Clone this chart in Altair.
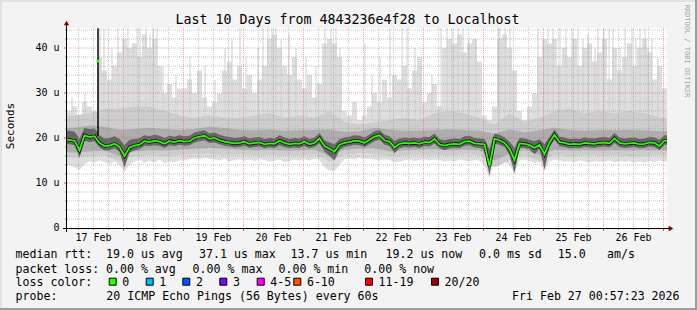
import altair as alt
import pandas as pd

# ---------------- data ----------------
START = pd.Timestamp("2026-02-17T01:24:00Z")
END = START + pd.Timedelta(days=10)

# 2-hour buckets (120)
median = [19.6, 19.4, 17.3, 20.6, 20.2, 20.4, 18.9, 18.2, 18.3, 18.7,
          18.0, 16.0, 17.9, 18.3, 18.5, 19.3, 19.1, 19.4, 19.2, 18.7,
          19.3, 19.1, 19.4, 19.2, 19.3, 20.0, 20.3, 20.5, 19.8, 20.0,
          19.5, 19.2, 19.0, 18.8, 18.9, 19.2, 18.7, 18.9, 19.0, 18.6,
          18.8, 18.7, 19.4, 18.9, 18.6, 18.8, 18.7, 19.2, 18.6, 18.9,
          19.9, 18.2, 17.6, 17.0, 18.5, 18.9, 19.1, 19.4, 19.3, 18.9,
          19.6, 20.3, 20.6, 19.5, 19.2, 17.9, 18.7, 18.9, 18.8, 18.9,
          18.7, 19.1, 19.0, 19.8, 18.6, 18.3, 18.6, 18.7, 18.6, 19.2,
          19.3, 18.8, 18.7, 18.6, 13.7, 19.8, 19.5, 18.9, 17.6, 15.1,
          18.8, 18.7, 18.4, 17.8, 18.5, 16.4, 19.0, 20.7, 19.1, 18.9,
          18.6, 18.7, 18.6, 18.9, 18.8, 18.7, 18.9, 19.0, 18.8, 19.9,
          18.9, 18.7, 18.8, 18.9, 18.6, 18.7, 19.0, 18.9, 18.2, 19.4]

p25 = [18.6, 18.4, 15.6, 19.4, 19.1, 19.3, 17.9, 17.2, 17.3, 17.7,
       16.9, 13.4, 16.8, 17.3, 17.5, 18.3, 18.2, 18.4, 18.3, 17.8,
       18.4, 18.2, 18.5, 18.3, 18.4, 19.0, 19.3, 19.5, 18.9, 19.0,
       18.6, 18.3, 18.1, 17.9, 18.0, 18.3, 17.8, 18.0, 18.1, 17.7,
       17.9, 17.8, 18.4, 18.0, 17.7, 17.9, 17.8, 18.2, 17.7, 18.0,
       18.8, 17.0, 16.0, 15.0, 17.4, 18.0, 18.2, 18.5, 18.4, 18.0,
       18.6, 19.3, 19.6, 18.5, 18.2, 16.6, 17.7, 18.0, 17.9, 18.0,
       17.8, 18.2, 18.1, 18.8, 17.7, 17.3, 17.7, 17.8, 17.7, 18.3,
       18.4, 17.9, 17.8, 17.4, 11.6, 18.7, 18.5, 18.0, 16.2, 12.2,
       17.8, 17.8, 17.5, 16.4, 17.6, 13.0, 18.0, 19.6, 18.2, 18.0,
       17.7, 17.8, 17.7, 18.0, 17.9, 17.8, 18.0, 18.1, 17.9, 18.9,
       18.0, 17.8, 17.9, 18.0, 17.7, 17.8, 18.1, 18.0, 17.3, 18.5]

p75 = [21.6, 21.4, 19.8, 22.3, 22.0, 22.1, 20.6, 19.9, 20.0, 20.4,
       19.8, 18.4, 19.6, 19.8, 20.0, 20.6, 20.4, 20.7, 20.5, 20.0,
       20.5, 20.3, 20.6, 20.4, 20.5, 21.2, 21.5, 21.7, 21.0, 21.2,
       20.7, 20.4, 20.2, 20.0, 20.1, 20.4, 19.9, 20.1, 20.2, 19.8,
       20.0, 19.9, 20.6, 20.1, 19.8, 20.0, 19.9, 20.4, 19.8, 20.1,
       21.1, 19.5, 19.0, 18.6, 19.7, 20.1, 20.3, 20.6, 20.5, 20.1,
       20.8, 21.5, 21.8, 20.7, 20.4, 19.4, 19.9, 20.1, 20.0, 20.1,
       19.9, 20.3, 20.2, 21.0, 19.8, 19.5, 19.8, 19.9, 19.8, 20.4,
       20.5, 20.0, 19.9, 19.8, 17.5, 21.0, 20.7, 20.1, 19.2, 17.8,
       20.0, 19.9, 19.6, 19.3, 19.7, 18.6, 20.2, 21.9, 20.3, 20.1,
       19.8, 19.9, 19.8, 20.1, 20.0, 19.9, 20.1, 20.2, 20.0, 21.1,
       20.1, 19.9, 20.0, 20.1, 19.8, 19.9, 20.2, 20.1, 19.6, 20.6]

rtt_min = [14.0, 13.5, 12.9, 14.2, 14.8, 14.5, 15.0, 14.6, 14.2, 14.8,
           14.0, 12.4, 14.0, 14.8, 15.2, 14.5, 15.0, 14.6, 15.2, 14.4,
           14.8, 14.6, 15.0, 15.0, 15.3, 15.5, 15.2, 15.6, 15.4, 15.2,
           15.0, 15.4, 14.8, 15.1, 15.3, 15.0, 15.2, 14.9, 15.3, 15.1,
           14.8, 15.0, 15.2, 14.6, 14.9, 15.2, 15.0, 15.3, 15.0, 15.4,
           15.1, 13.5, 12.8, 12.6, 14.0, 15.3, 15.5, 15.2, 15.6, 15.3,
           15.4, 15.2, 15.0, 15.3, 15.1, 14.6, 14.8, 15.0, 15.2, 14.9,
           15.1, 15.3, 15.0, 15.2, 15.1, 14.7, 15.0, 14.8, 15.2, 15.0,
           14.9, 15.1, 15.0, 14.0, 11.0, 15.0, 15.2, 14.8, 14.0, 12.0,
           15.0, 15.2, 14.9, 14.5, 14.8, 12.6, 14.8, 15.2, 15.0, 14.7,
           14.9, 14.6, 15.0, 14.8, 14.5, 14.9, 14.7, 14.8, 15.0, 14.6,
           14.9, 14.7, 14.9, 14.5, 14.8, 14.6, 14.9, 14.7, 15.0, 14.8]

rtt_max = [26, 27, 25, 28, 27, 26, 38, 35, 33, 36,
           39, 42, 40, 41, 38, 43, 40, 42, 36, 30,
           32, 29, 31, 31, 33, 30, 35, 29, 27, 28,
           30, 35, 37, 33, 36, 31, 34, 30, 33, 36,
           42, 43, 40, 36, 34, 38, 33, 31, 34, 29,
           32, 41, 42, 41, 38, 26, 25, 28, 24, 25,
           27, 30, 28, 33, 29, 34, 33, 36, 31, 35,
           38, 28, 30, 32, 27, 40, 42, 41, 43, 39,
           41, 42, 37, 25, 24, 27, 42, 43, 40, 35,
           26, 24, 27, 30, 38, 42, 41, 42, 36, 40,
           38, 42, 36, 40, 41, 37, 39, 42, 33, 40,
           35, 38, 41, 36, 40, 42, 39, 33, 36, 31]

# 6-hour buckets (40)
p5 = [15.6, 16.0, 16.2, 14.8, 16.0, 16.2, 16.0, 16.3, 16.4, 16.5,
      16.3, 16.4, 16.2, 16.3, 16.1, 16.3, 16.4, 14.8, 16.3, 16.6,
      16.5, 16.0, 16.2, 16.4, 16.3, 16.1, 16.4, 16.2, 13.5, 15.0,
      16.3, 14.8, 16.2, 16.0, 16.2, 16.1, 16.2, 16.0, 16.1, 16.2]
p95 = [25.0, 25.5, 26.5, 26.5, 27.0, 27.0, 26.0, 25.0, 24.5, 25.0,
       24.5, 24.5, 25.0, 25.5, 24.5, 25.0, 24.5, 26.0, 23.5, 23.0,
       23.5, 24.0, 24.5, 24.0, 25.5, 26.0, 25.5, 24.5, 23.0, 25.5,
       23.5, 24.5, 26.0, 26.5, 25.5, 26.0, 25.5, 26.0, 25.5, 24.5]
p10 = [16.8, 17.0, 17.2, 16.0, 17.0, 17.3, 17.2, 17.4, 17.6, 17.8,
       17.6, 17.4, 17.3, 17.4, 17.2, 17.3, 17.4, 16.0, 17.4, 17.6,
       17.7, 17.0, 17.3, 17.4, 17.5, 17.2, 17.4, 17.3, 15.0, 16.5,
       17.4, 16.2, 17.4, 17.2, 17.3, 17.2, 17.3, 17.2, 17.3, 17.3]
p90 = [22.3, 22.8, 22.5, 21.8, 22.0, 22.3, 22.0, 21.8, 22.0, 22.5,
       22.2, 21.8, 21.7, 21.9, 21.6, 21.7, 21.8, 21.9, 21.4, 21.5,
       22.2, 21.9, 21.6, 21.6, 21.8, 21.9, 21.8, 21.6, 21.0, 21.9,
       21.3, 21.7, 22.3, 21.8, 21.6, 21.8, 21.7, 21.8, 21.7, 21.5]

# thin single-sample smoke spikes
spike_time = ["2026-02-17T03:24", "2026-02-17T08:36", "2026-02-17T14:36", "2026-02-17T16:12",
              "2026-02-17T19:24", "2026-02-17T21:48", "2026-02-18T01:48", "2026-02-18T03:48",
              "2026-02-18T05:24", "2026-02-18T06:36", "2026-02-18T09:00", "2026-02-18T10:36",
              "2026-02-18T11:48", "2026-02-18T13:24", "2026-02-18T15:48", "2026-02-18T21:00",
              "2026-02-19T02:36", "2026-02-19T08:36", "2026-02-19T12:36", "2026-02-19T16:36",
              "2026-02-19T19:24", "2026-02-19T22:36", "2026-02-20T01:00", "2026-02-20T05:48",
              "2026-02-20T07:48", "2026-02-20T09:48", "2026-02-20T11:24", "2026-02-20T13:00",
              "2026-02-20T15:00", "2026-02-20T18:12", "2026-02-20T21:00", "2026-02-21T01:00",
              "2026-02-21T05:00", "2026-02-21T08:36", "2026-02-21T11:00", "2026-02-21T13:00",
              "2026-02-21T14:36", "2026-02-22T00:36", "2026-02-22T03:24", "2026-02-22T06:36",
              "2026-02-22T10:36", "2026-02-22T15:24", "2026-02-22T17:24", "2026-02-22T20:36",
              "2026-02-22T22:36", "2026-02-23T03:24", "2026-02-23T07:00", "2026-02-23T09:24",
              "2026-02-23T11:24", "2026-02-23T13:48", "2026-02-23T15:48", "2026-02-23T18:12",
              "2026-02-23T21:00", "2026-02-24T05:48", "2026-02-24T06:36", "2026-02-24T08:36",
              "2026-02-24T10:36", "2026-02-24T21:48", "2026-02-25T00:12", "2026-02-25T01:48",
              "2026-02-25T03:48", "2026-02-25T06:36", "2026-02-25T09:00", "2026-02-25T11:24",
              "2026-02-25T13:48", "2026-02-25T15:48", "2026-02-25T17:48", "2026-02-25T20:36",
              "2026-02-25T21:48", "2026-02-26T00:12", "2026-02-26T02:12", "2026-02-26T03:48",
              "2026-02-26T06:36", "2026-02-26T08:36", "2026-02-26T11:24", "2026-02-26T13:00",
              "2026-02-26T14:36", "2026-02-26T16:36", "2026-02-26T17:48", "2026-02-26T19:24",
              "2026-02-26T21:48"]
spike_top = [29, 30, 44.4, 44.4, 40, 44.4, 44.4, 41, 44.4, 44.4, 44.4, 43,
             44.4, 44.4, 36, 34, 38, 36, 33, 40, 42, 44.4, 38, 40,
             44.4, 44.4, 44.4, 44.4, 42, 43, 40, 38, 36, 44.4, 44.4, 44.4,
             40, 41, 34, 38, 44.4, 44.4, 44.4, 40, 36, 34, 44.4, 44.4,
             44.4, 44.4, 44.4, 42, 42, 44.4, 44.4, 44.4, 44.4, 44.4, 40, 44.4,
             44.4, 44.4, 44.4, 44.4, 44.4, 42, 43, 40, 44.4, 44.4, 44.4, 44.4,
             40, 44.4, 44.4, 42, 44.4, 44.4, 40, 42, 38]
spike_base = [24.0] * len(spike_time)

# the one median outlier
outlier_time = ["2026-02-17T13:48"]
outlier_median = [37.1]
outlier_low = [20.5]
outlier_top = [44.4]

x_tick_labels = ["17 Feb", "18 Feb", "19 Feb", "20 Feb", "21 Feb",
                 "22 Feb", "23 Feb", "24 Feb", "25 Feb", "26 Feb"]
y_tick_values = [0, 10, 20, 30, 40]
y_tick_labels = ["0\u00a0\u00a0", "10 u", "20 u", "30 u", "40 u"]

loss_labels = ["0", "1", "2", "3", "4-5", "6-10", "11-19", "20/20"]
loss_colors = ["#26ff00", "#00b8ff", "#0059ff", "#7e00ff", "#ff00ff", "#ff5500", "#ff0000", "#a10000"]

# ---------------- helpers ----------------
def ms(ts):
    t = pd.Timestamp(ts)
    if t.tzinfo is None:
        t = t.tz_localize("UTC")
    return int(t.value // 10**6)

def centers(n, hours):
    """bucket centre times, plus the two ends of the time window"""
    return ([ms(START)] +
            [ms(START + pd.Timedelta(hours=hours * (i + 0.5))) for i in range(n)] +
            [ms(END)])

def ext(a):
    return [a[0]] + list(a) + [a[-1]]

df2 = pd.DataFrame({"t": centers(120, 2), "median": ext(median), "p25": ext(p25), "p75": ext(p75),
                    "lo": ext(rtt_min), "hi": ext(rtt_max)})
df2s = pd.DataFrame({"t": [ms(START + pd.Timedelta(hours=2 * i)) for i in range(121)],
                     "p75": list(p75) + [p75[-1]], "hi": list(rtt_max) + [rtt_max[-1]]})
df6 = pd.DataFrame({"t": centers(40, 6), "p5": ext(p5), "p95": ext(p95), "p10": ext(p10), "p90": ext(p90)})
df_spk = pd.DataFrame({"t": [ms(s) for s in spike_time], "base": spike_base, "top": spike_top})
df_out = pd.DataFrame({"t": [ms(s) for s in outlier_time], "m": outlier_median,
                       "lo": outlier_low, "top": outlier_top})

xs = alt.Scale(type="utc", domain=[ms(START), ms(END)], nice=False)
ys = alt.Scale(domain=[0, 44.444], nice=False, zero=True)

def X(f="t"):
    return alt.X(f"{f}:T", scale=xs, axis=None)

def Y(f):
    return alt.Y(f"{f}:Q", scale=ys, axis=None)

def Y2(f):
    return alt.Y2(f"{f}:Q")

layers = []

def band(df, lo, hi, color, interp="linear"):
    return alt.Chart(df).mark_area(interpolate=interp, color=color, clip=True).encode(
        x=X(), y=Y(lo), y2=Y2(hi))

# upper light smoke as columns, lower light smoke as a smooth band
layers.append(band(df2s, "p75", "hi", "#dedede", interp="step-after"))
layers.append(band(df2, "lo", "p75", "#dedede"))
layers.append(alt.Chart(df_spk).mark_rule(color="#d0d0d0", strokeWidth=1, clip=True).encode(
    x=X(), y=Y("base"), y2=Y2("top")))
layers.append(band(df6, "p5", "p95", "#cdcdcd"))
layers.append(band(df6, "p10", "p90", "#adadad"))
layers.append(band(df2, "p25", "p75", "#666666"))
layers.append(alt.Chart(df_out).mark_rule(color="#000000", strokeWidth=1.5, clip=True).encode(
    x=X(), y=Y("lo"), y2=Y2("top")))
layers.append(alt.Chart(df2).mark_line(interpolate="linear", color="#151515", strokeWidth=3.5, clip=True).encode(
    x=X(), y=Y("median")))
layers.append(alt.Chart(df2).mark_line(interpolate="linear", color="#26ff00", strokeWidth=1.8, clip=True).encode(
    x=X(), y=Y("median")))
layers.append(alt.Chart(df_out).mark_square(color="#26ff00", size=8, opacity=1).encode(
    x=X(), y=Y("m")))

# ---------------- grid ----------------
minor_x = [ms(t) for t in pd.date_range("2026-02-17T06:00Z", "2026-02-26T18:00Z", freq="6h") if t.hour != 0]
major_x = [ms(t) for t in pd.date_range("2026-02-18T00:00Z", "2026-02-27T00:00Z", freq="1D")]
minor_y = [v for v in range(2, 45, 2) if v % 10 != 0]
major_y = [10, 20, 30, 40]

GRID = "#8c8c8c"
MGRID = "#e05050"
for vals, col in ((minor_x, GRID), (major_x, MGRID)):
    d = pd.DataFrame({"t": vals})
    layers.append(alt.Chart(d).mark_rule(color=col, opacity=0.5, strokeDash=[1, 1], strokeWidth=1).encode(
        x=X(), y=alt.value(0), y2=alt.value(200)))
    layers.append(alt.Chart(d).mark_rule(color=col, strokeWidth=1).encode(
        x=X(), y=alt.value(200), y2=alt.value(203 if col == MGRID else 202)))
for vals, col in ((minor_y, GRID), (major_y, MGRID)):
    d = pd.DataFrame({"v": vals})
    layers.append(alt.Chart(d).mark_rule(color=col, opacity=0.5, strokeDash=[1, 1], strokeWidth=1).encode(
        y=Y("v"), x=alt.value(0), x2=alt.value(600)))
    layers.append(alt.Chart(d).mark_rule(color=col, strokeWidth=1).encode(
        y=Y("v"), x=alt.value(-3 if col == MGRID else -2), x2=alt.value(0)))

# ---------------- axes ----------------
one = alt.Data(values=[{"a": 1}])
layers.append(alt.Chart(one).mark_rule(color="#000000", strokeWidth=1).encode(
    x=alt.value(-4), x2=alt.value(603), y=alt.value(200.5)))
layers.append(alt.Chart(one).mark_rule(color="#000000", strokeWidth=1).encode(
    x=alt.value(-0.5), y=alt.value(204), y2=alt.value(-5)))
layers.append(alt.Chart(one).mark_point(shape="triangle-up", filled=True, size=28, color="#7f0000", opacity=1).encode(
    x=alt.value(-0.5), y=alt.value(-5)))
layers.append(alt.Chart(one).mark_point(shape="triangle-right", filled=True, size=28, color="#7f0000", opacity=1).encode(
    x=alt.value(604), y=alt.value(200.5)))

noon = [ms(pd.Timestamp("2026-02-17T12:00Z") + pd.Timedelta(days=k)) for k in range(10)]
df_xl = pd.DataFrame({"t": noon, "lab": x_tick_labels})
layers.append(alt.Chart(df_xl).mark_text(font="DejaVu Sans Mono", fontSize=10, align="center",
                                         baseline="alphabetic", color="#000000").encode(
    x=X(), y=alt.value(213), text="lab:N"))
df_yl = pd.DataFrame({"v": y_tick_values, "lab": y_tick_labels})
layers.append(alt.Chart(df_yl).mark_text(font="DejaVu Sans Mono", fontSize=10, align="right",
                                         baseline="middle", color="#000000").encode(
    y=Y("v"), x=alt.value(-7.5), text="lab:N"))

OX, OY = 67, 28  # plot origin in the page

def txt(s, x, y, size=11.6, align="left", angle=0, color="#000000", baseline="alphabetic"):
    kw = dict(font="DejaVu Sans Mono", fontSize=size, align=align, baseline=baseline, color=color)
    if angle:
        kw["angle"] = angle
    return alt.Chart(one).mark_text(**kw).encode(
        x=alt.value(x - OX), y=alt.value(y - OY), text=alt.value(s))

# frame
layers.append(alt.Chart(one).mark_rule(color="#e2e2e2", strokeWidth=2).encode(
    x=alt.value(-OX), x2=alt.value(697 - OX), y=alt.value(1 - OY)))
layers.append(alt.Chart(one).mark_rule(color="#e2e2e2", strokeWidth=2).encode(
    x=alt.value(1 - OX), y=alt.value(-OY), y2=alt.value(310 - OY)))
layers.append(alt.Chart(one).mark_rule(color="#9e9e9e", strokeWidth=2).encode(
    x=alt.value(-OX), x2=alt.value(697 - OX), y=alt.value(309 - OY)))
layers.append(alt.Chart(one).mark_rule(color="#9e9e9e", strokeWidth=2).encode(
    x=alt.value(696 - OX), y=alt.value(-OY), y2=alt.value(310 - OY)))

layers.append(txt("Last 10 Days from 4843236e4f28 to Localhost", 347.5, 24, size=13.3, align="center"))
layers.append(txt("Seconds", 13.5, 126, size=11, align="center", angle=270, baseline="alphabetic"))
layers.append(txt("RRDTOOL / TOBI OETIKER", 687, 51, size=7, align="center", angle=90,
                  color="#a8a8a8", baseline="middle"))

ROW = [258.3, 272.5, 286.0, 300.0]
row1 = [("median rtt:", 15.5), ("19.0 us avg", 106.0), ("37.1 us max", 199.0), ("13.7 us min", 290.5),
        ("19.2 us now", 385.5), ("0.0 ms sd", 479.0), ("15.0", 557.7), ("am/s", 607.0)]
row2 = [("packet loss:", 15.5), ("0.00 % avg", 106.0), ("0.00 % max", 192.6), ("0.00 % min", 278.5),
        ("0.00 % now", 364.3)]
row4 = [("probe:", 15.5), ("20 ICMP Echo Pings (56 Bytes) every 60s", 106.3),
        ("Fri Feb 27 00:57:23 2026", 512.0)]
for s, x in row1:
    layers.append(txt(s, x, ROW[0]))
for s, x in row2:
    layers.append(txt(s, x, ROW[1]))
layers.append(txt("loss color:", 15.5, ROW[2]))
box_x = [108.7, 145.7, 182.3, 219.3, 256.7, 293.3, 365.0, 431.0]
for lab, col, bx in zip(loss_labels, loss_colors, box_x):
    layers.append(alt.Chart(one).mark_rect(fill=col, stroke="#000000", strokeWidth=1).encode(
        x=alt.value(bx + 0.5 - OX), x2=alt.value(bx + 7.5 - OX),
        y=alt.value(278.2 - OY), y2=alt.value(285.2 - OY)))
    layers.append(txt(lab, bx + 13.6, ROW[2]))
for s, x in row4:
    layers.append(txt(s, x, ROW[3]))

chart = alt.layer(*layers).properties(
    width=600, height=200,
    padding={"left": 67, "top": 28, "right": 30, "bottom": 82},
    autosize=alt.AutoSizeParams(type="none"),
    background="#f3f3f3",
).configure_view(fill="#ffffff", stroke=None)

chart.save("out.html", embed_options={"renderer": "svg", "actions": False})
